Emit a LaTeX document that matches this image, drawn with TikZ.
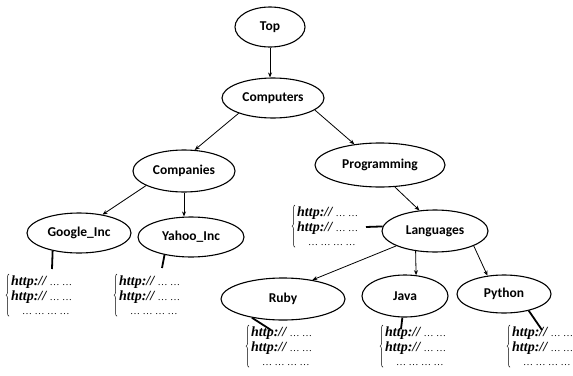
\documentclass[tikz,border=0pt]{standalone}
\usepackage{fontspec}
\setmainfont{Liberation Serif}
\newfontfamily\lblfont{Carlito}
\usetikzlibrary{shapes.geometric,arrows.meta,decorations.pathreplacing}
\newcommand\mydots[1]{{\fontsize{10}{10}\selectfont #1}}
\newcommand\mylinks{\textbf{\textit{http://}}\,\mydots{…\ …}\\
\textbf{\textit{http://}}\,\mydots{…\ …}\\
\hspace*{11pt}\mydots{…\ …\ …\ …}}
\begin{document}
\begin{tikzpicture}[x=1pt,y=-1pt,
  topic/.style={ellipse,draw,line width=1.1pt,inner sep=0pt,font=\lblfont\bfseries\fontsize{13.5}{16}\selectfont},
  link/.style={line width=0.8pt,-{Stealth[length=5pt,width=4pt]}},
  stub/.style={line width=1.8pt},
  urls/.style={anchor=north west,inner sep=0pt,align=left,font=\fontsize{14}{14.5}\selectfont},
  brace/.style={decorate,decoration={brace,amplitude=3pt},line width=0.5pt}
]
\useasboundingbox (0,0) rectangle (573,375);
\node[topic,minimum width=70pt,minimum height=40pt] (top) at (270,27) {Top};
\node[topic,minimum width=102pt,minimum height=40pt] (comp) at (273,98) {Computers};
\node[topic,minimum width=102pt,minimum height=42pt] (cos) at (184,171) {Companies};
\node[topic,minimum width=130pt,minimum height=44pt] (prog) at (380,165) {Programming};
\node[topic,minimum width=104pt,minimum height=40pt] (goog) at (79,233) {Google\_Inc};
\node[topic,minimum width=106pt,minimum height=40pt] (yah) at (191,237) {Yahoo\_Inc};
\node[topic,minimum width=106pt,minimum height=42pt] (lang) at (435,231) {Languages};
\node[topic,minimum width=124pt,minimum height=42pt] (ruby) at (283,299) {Ruby};
\node[topic,minimum width=86pt,minimum height=42pt] (java) at (405,296) {Java};
\node[topic,minimum width=94pt,minimum height=38pt] (py) at (504,294) {Python};

\draw[link] (top.south) -- (top.south |- comp.north);
\draw[link] (comp.204) -- (cos.63);
\draw[link] (comp.344) -- (prog.141);
\draw[link] (cos.201) -- (goog.38);
\draw[link] (cos.south) -- (cos.south |- yah.north);
\draw[link] (prog.304) -- (lang.127);
\draw[link] (lang.201) -- (ruby.33);
\draw[link] (lang.226) -- (java.62);
\draw[link] (lang.339) -- (py.132);

\node[urls] (gtxt) at (11,276) {\mylinks};
\node[urls] (ytxt) at (119,276) {\mylinks};
\node[urls] (ltxt) at (297,207) {\mylinks};
\node[urls] (rtxt) at (251,327) {\mylinks};
\node[urls] (jtxt) at (385,327) {\mylinks};
\node[urls] (ptxt) at (512,327) {\mylinks};
\foreach \t in {gtxt,ytxt,ltxt,rtxt,jtxt,ptxt}
  \draw[brace] ([xshift=-2pt,yshift=-1pt]\t.south west) -- ([xshift=-2pt,yshift=2pt]\t.north west);

\coordinate (ge) at (52,269);
\coordinate (ye) at (162,268);
\coordinate (le) at (366,227);
\coordinate (re) at (271,330);
\coordinate (je) at (401,329);
\coordinate (pe) at (542,330);
\draw[stub] (goog.214) -- (ge);
\draw[stub] (yah.214) -- (ye);
\draw[stub] (lang.175) -- (le);
\draw[stub] (ruby.211) -- (re);
\draw[stub] (java.263) -- (je);
\draw[stub] (py.326) -- (pe);
\end{tikzpicture}
\end{document}
